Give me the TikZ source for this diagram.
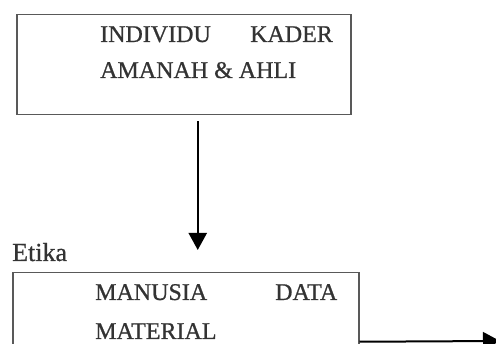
\documentclass[tikz,border=0pt]{standalone}
\usepackage{fontspec}
\setmainfont[FakeBold=0.8]{Liberation Serif}
\usetikzlibrary{arrows.meta}
\begin{document}
\begin{tikzpicture}[x=1pt,y=-1pt,
  box/.style={draw=black!65, line width=1.5pt, inner sep=0pt},
  txt/.style={anchor=base west, inner sep=0pt, font=\fontsize{24}{28}\selectfont, text=black!80},
  conn/.style={line width=2.2pt, -{Triangle[length=17pt,width=18pt]}}]
\useasboundingbox (0,0) rectangle (496,344);
\node[box, minimum width=334pt, minimum height=100pt, anchor=north west] (b1) at (16,14) {};
\node[box, minimum width=346pt, minimum height=90pt, anchor=north west] (b2) at (12,272) {};
\node[txt] (t1) at (100,42) {INDIVIDU};
\node[txt] (t2) at (250,42) {KADER};
\node[txt] (t3) at (100,78) {AMANAH \& AHLI};
\node[txt, font=\fontsize{26}{30}\selectfont] (et) at (12,261) {Etika};
\node[txt] (t4) at (95,300) {MANUSIA};
\node[txt] (t5) at (275,300) {DATA};
\node[txt] (t6) at (95,339) {MATERIAL};
\coordinate (out) at (500,341);
\draw[conn] ([shift={(14pt,-6pt)}]b1.south) -- ([shift={(12pt,22pt)}]b2.north);
\draw[conn, line width=2pt] ([yshift=-24pt]b2.east) -- (out);
\end{tikzpicture}
\end{document}
